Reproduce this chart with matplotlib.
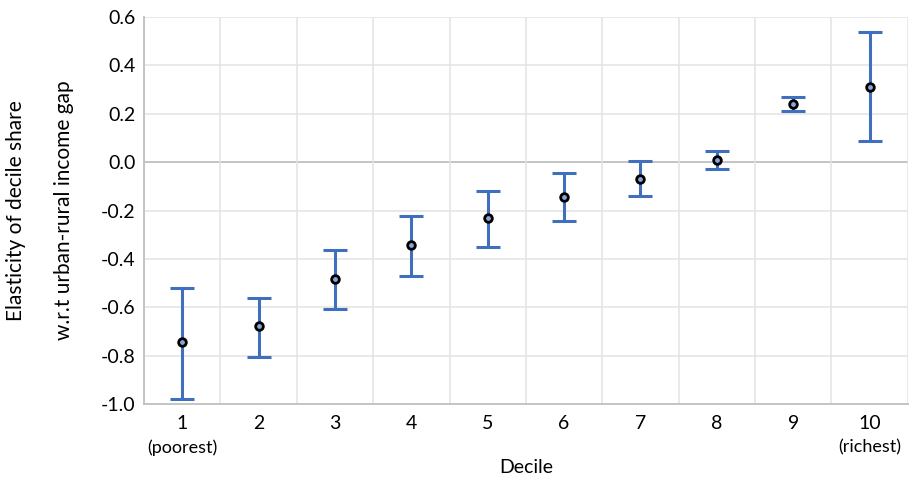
import matplotlib
matplotlib.use('Agg')
import matplotlib.pyplot as plt
import numpy as np

plt.rcParams['font.family'] = ['Lato', 'DejaVu Sans']

deciles = [1, 2, 3, 4, 5, 6, 7, 8, 9, 10]
estimate = [-0.744, -0.678, -0.484, -0.343, -0.231, -0.145, -0.069, 0.008, 0.241, 0.311]
upper = [-0.520, -0.561, -0.364, -0.223, -0.120, -0.045, 0.003, 0.044, 0.270, 0.537]
lower = [-0.978, -0.805, -0.609, -0.471, -0.351, -0.244, -0.139, -0.028, 0.211, 0.086]
yticks = [-1.0, -0.8, -0.6, -0.4, -0.2, 0.0, 0.2, 0.4, 0.6]

est = np.array(estimate)
err = [est - np.array(lower), np.array(upper) - est]

fig = plt.figure(figsize=(9.18, 4.82), dpi=100)
ax = fig.add_axes([0.1569, 0.1618, 0.832, 0.8029])

blue = '#4070bd'
ax.errorbar(deciles, est, yerr=err, fmt='none', ecolor=blue, elinewidth=2.2,
            capsize=8.6, capthick=2.2, zorder=3)
ax.plot(deciles, est, 'o', ms=5.5, mfc='#8aa6d6', mec='black', mew=2.0, zorder=4)

ax.set_xlim(0.5, 10.5)
ax.set_ylim(-1.0, 0.6)
ax.set_yticks(yticks)
ax.set_yticklabels([f'{v:.1f}' for v in yticks])
ax.set_xticks(deciles)
ax.set_xticklabels([str(d) for d in deciles])
ax.set_xticks(np.arange(0.5, 11, 1), minor=True)

# grid
for y in yticks[1:]:
    if y == 0:
        ax.axhline(0, color='#bfbfbf', lw=1.3, zorder=1)
    else:
        ax.axhline(y, color='#e3e3e3', lw=1.1, zorder=1)
ax.grid(True, which='minor', axis='x', color='#e3e3e3', lw=1.1, zorder=1)

for s in ['top', 'right']:
    ax.spines[s].set_visible(False)
for s in ['left', 'bottom']:
    ax.spines[s].set_color('#bfbfbf')
    ax.spines[s].set_linewidth(1.3)

ax.tick_params(axis='both', which='both', length=0, labelsize=14, colors='black')
ax.tick_params(axis='y', pad=6)
ax.tick_params(axis='x', pad=8)

ax.text(1, -0.113, '(poorest)', transform=ax.get_xaxis_transform(),
        ha='center', va='center', fontsize=13)
ax.text(10, -0.113, '(richest)', transform=ax.get_xaxis_transform(),
        ha='center', va='center', fontsize=13)
ax.text(5.5, -0.165, 'Decile', transform=ax.get_xaxis_transform(),
        ha='center', va='center', fontsize=14)
ax.text(-0.167, 0.5, 'Elasticity of decile share', transform=ax.transAxes,
        rotation=90, ha='center', va='center', fontsize=15)
ax.text(-0.105, 0.5, 'w.r.t urban-rural income gap', transform=ax.transAxes,
        rotation=90, ha='center', va='center', fontsize=15)

fig.savefig('out.png', dpi=100)
